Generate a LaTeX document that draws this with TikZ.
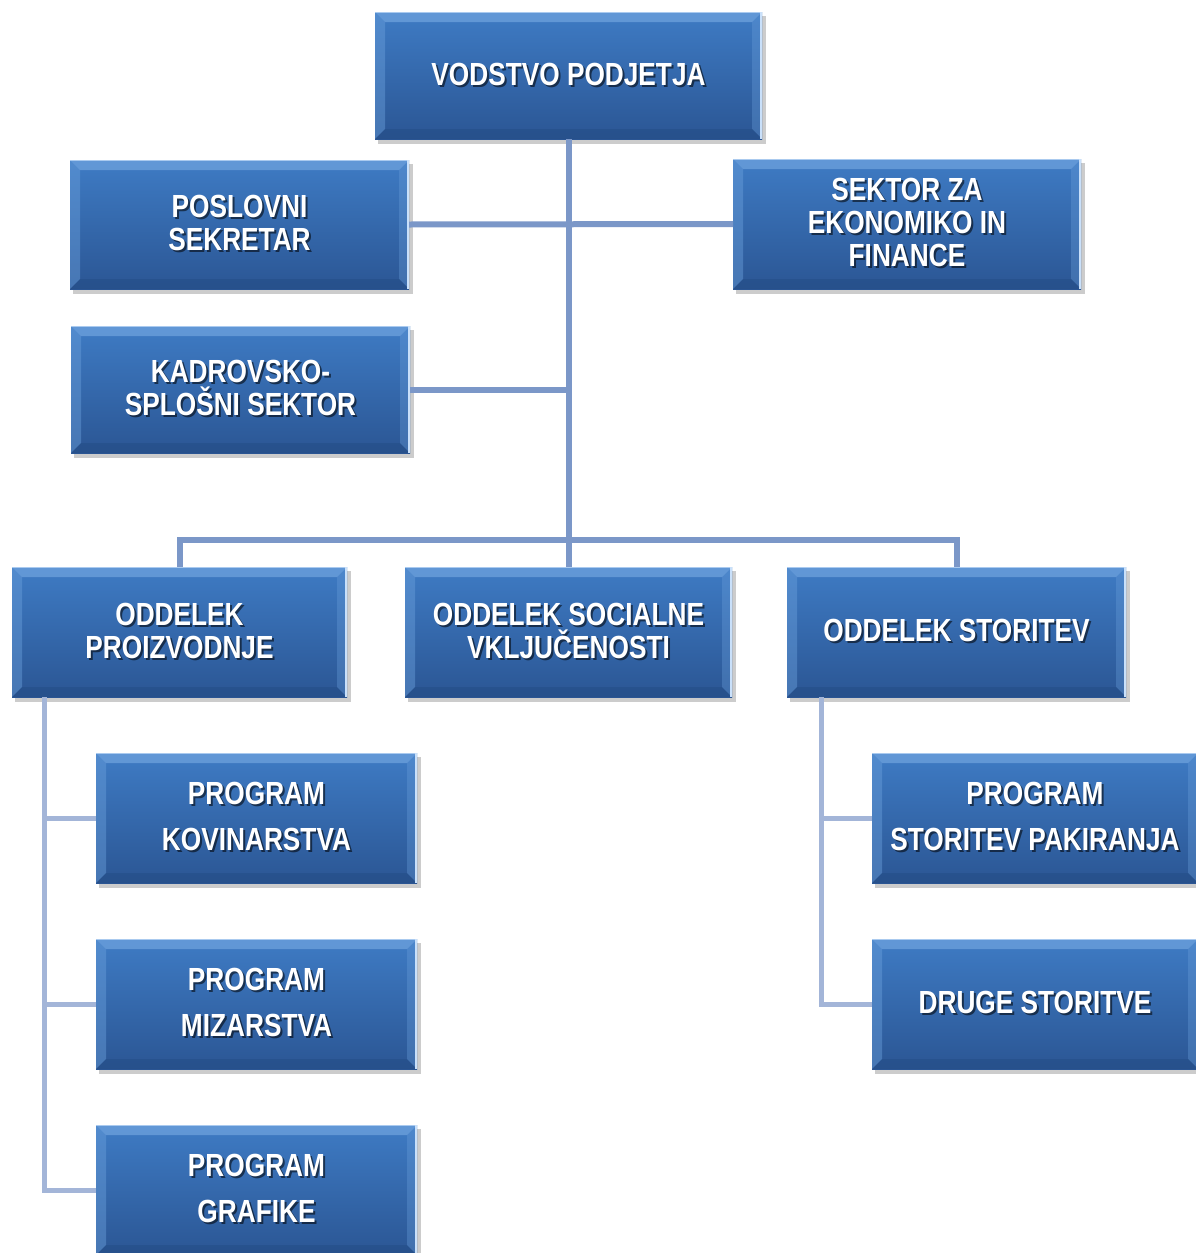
\documentclass[tikz,border=0pt]{standalone}
\usepackage{fontspec}
\usetikzlibrary{calc}
\newfontfamily\boxfont[FakeStretch=0.82]{Liberation Sans}
\definecolor{lineA}{HTML}{7B97C8}
\definecolor{lineB}{HTML}{A3B5D8}
\definecolor{boxTop}{HTML}{3E7BC4}
\definecolor{boxBot}{HTML}{2B5694}
\definecolor{bevLight}{HTML}{6A9FDB}
\definecolor{bevDark}{HTML}{234A82}
\definecolor{bevEdge}{HTML}{C9E0FA}
\tikzset{
  boxnode/.style={inner sep=0pt, outer sep=0pt, top color=boxTop, bottom color=boxBot},
  boxtext/.style={align=center, font=\boxfont\bfseries\fontsize{32}{33}\selectfont, text=white, inner sep=0pt},
  shadowtext/.style={boxtext, text=black, text opacity=0.55},
  progtext/.style={font=\boxfont\bfseries\fontsize{32}{46}\selectfont},
  conA/.style={draw=lineA, line width=6pt},
  conB/.style={draw=lineB, line width=5pt},
}
% name, x1, y1, x2, y2, extra text style, text
\newcommand{\orgbox}[7]{%
  \fill[black, opacity=0.2] (#2+3,#3+4) rectangle (#4+4,#5+5);
  \node[boxnode, minimum width={(#4-#2)*1pt}, minimum height={(#5-#3)*1pt}] (#1) at ({(#2+#4)/2},{(#3+#5)/2}) {};
  \fill[bevLight, opacity=0.8] (#1.north west) -- (#1.north east) -- ([shift={(-10pt,-10pt)}]#1.north east) -- ([shift={(10pt,-10pt)}]#1.north west) -- cycle;
  \fill[bevLight, opacity=0.45] (#1.north west) -- (#1.south west) -- ([shift={(10pt,10pt)}]#1.south west) -- ([shift={(10pt,-10pt)}]#1.north west) -- cycle;
  \fill[bevLight, opacity=0.35] (#1.north east) -- (#1.south east) -- ([shift={(-10pt,10pt)}]#1.south east) -- ([shift={(-10pt,-10pt)}]#1.north east) -- cycle;
  \fill[bevDark, opacity=0.45] (#1.south west) -- (#1.south east) -- ([shift={(-10pt,10pt)}]#1.south east) -- ([shift={(10pt,10pt)}]#1.south west) -- cycle;
  \draw[bevEdge, line width=1.5pt] ([xshift=-1pt]#1.north east) -- ([xshift=-1pt]#1.south east);
  \draw[bevEdge, line width=1pt, opacity=0.7] ([yshift=-0.5pt]#1.north west) -- ([yshift=-0.5pt]#1.north east);
  \node[shadowtext, #6] at ([shift={(2pt,-0.5pt)}]#1.center) {#7};
  \node[boxtext, #6] at ([yshift=1.5pt]#1.center) {#7};
}
\begin{document}
\begin{tikzpicture}[x=1pt, y=-1pt]
\useasboundingbox (0,0) rectangle (1196,1253);
\clip (0,0) rectangle (1196,1253);
\fill[white] (0,0) rectangle (1196,1253);

\orgbox{vod}{375}{12}{762}{139}{}{VODSTVO PODJETJA}
\orgbox{pos}{70}{160}{409}{289}{}{POSLOVNI\\SEKRETAR}
\orgbox{sek}{733}{159}{1081}{289}{}{SEKTOR ZA\\EKONOMIKO IN\\FINANCE}
\orgbox{kad}{71}{326}{410}{453}{}{KADROVSKO-\\SPLOŠNI SEKTOR}
\orgbox{op}{12}{567}{347}{697}{}{ODDELEK\\PROIZVODNJE}
\orgbox{os}{405}{567}{732}{697}{}{ODDELEK SOCIALNE\\VKLJUČENOSTI}
\orgbox{ost}{787}{567}{1126}{697}{}{ODDELEK STORITEV}
\orgbox{pk}{96}{753}{417}{883}{progtext}{PROGRAM\\KOVINARSTVA}
\orgbox{pm}{96}{939}{417}{1069}{progtext}{PROGRAM\\MIZARSTVA}
\orgbox{pg}{96}{1125}{417}{1255}{progtext}{PROGRAM\\GRAFIKE}
\orgbox{psp}{872}{753}{1198}{883}{progtext}{PROGRAM\\STORITEV PAKIRANJA}
\orgbox{ds}{872}{939}{1198}{1069}{}{DRUGE STORITVE}

% free ends / junctions
\coordinate (bus) at ($(os.north)+(0,27pt)$);
\coordinate (ltrunk) at ([xshift=32pt]op.south west);
\coordinate (rtrunk) at ([xshift=34pt]ost.south west);

% connectors
\draw[conA] (vod.south) -- (os.north);
\draw[conA] (pos.east) -- (sek.west);
\draw[conA] (kad.east) -- (kad.east -| vod.south);
\draw[conA] (op.north) |- (bus) -| (ost.north);
\draw[conB] (ltrunk) |- (pg.west);
\draw[conB] (pk.west) -- (pk.west -| ltrunk);
\draw[conB] (pm.west) -- (pm.west -| ltrunk);
\draw[conB] (rtrunk) |- (ds.west);
\draw[conB] (psp.west) -- (psp.west -| rtrunk);
\end{tikzpicture}
\end{document}
